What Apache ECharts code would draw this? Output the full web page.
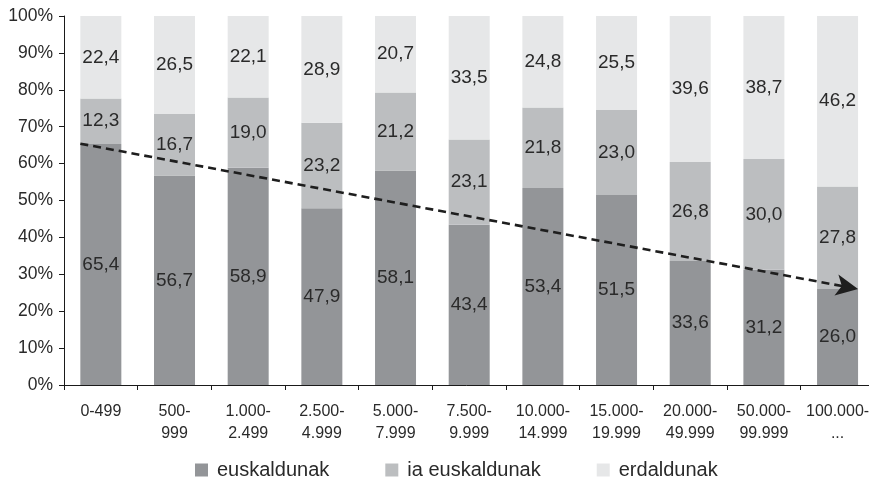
<!DOCTYPE html>
<html>
<head>
<meta charset="utf-8">
<script src="https://cdn.jsdelivr.net/npm/echarts@6/dist/echarts.min.js"></script>
<style>html,body{margin:0;padding:0;background:#fff}#c{width:869px;height:490px}</style>
</head>
<body>
<div id="c"></div>
<script>
var categories = ['0-499', '500-\n999', '1.000-\n2.499', '2.500-\n4.999', '5.000-\n7.999', '7.500-\n9.999', '10.000-\n14.999', '15.000-\n19.999', '20.000-\n49.999', '50.000-\n99.999', '100.000-\n...'];
var euskaldunak = [65.4, 56.7, 58.9, 47.9, 58.1, 43.4, 53.4, 51.5, 33.6, 31.2, 26.0];
var iaEuskaldunak = [12.3, 16.7, 19.0, 23.2, 21.2, 23.1, 21.8, 23.0, 26.8, 30.0, 27.8];
var erdaldunak = [22.4, 26.5, 22.1, 28.9, 20.7, 33.5, 24.8, 25.5, 39.6, 38.7, 46.2];
var seriesNames = ['euskaldunak', 'ia euskaldunak', 'erdaldunak'];
var yTicks = [0, 10, 20, 30, 40, 50, 60, 70, 80, 90, 100];

var colors = ['#939598', '#bcbec0', '#e6e7e8'];
var raw = [euskaldunak, iaEuskaldunak, erdaldunak];
var sums = categories.map(function (_, i) { return euskaldunak[i] + iaEuskaldunak[i] + erdaldunak[i]; });

function fmt(v) { return v.toFixed(1).replace('.', ','); }

var FONT = '"Liberation Sans", Arial, sans-serif';

var barSeries = raw.map(function (arr, s) {
  return {
    name: seriesNames[s],
    type: 'bar',
    stack: 'total',
    barWidth: 41,
    itemStyle: { color: colors[s] },
    label: {
      show: true,
      position: 'inside',
      fontFamily: FONT,
      fontSize: 19,
      color: '#2a2a2a',
      formatter: function (p) { return fmt(arr[p.dataIndex]); }
    },
    emphasis: { disabled: true },
    data: arr.map(function (v, i) { return v / sums[i] * 100; })
  };
});

var n = categories.length;
var halfBarFrac = 20.5 / 73.67;
barSeries.push({
  type: 'line',
  xAxisIndex: 1,
  yAxisIndex: 0,
  data: [],
  silent: true,
  markLine: {
    silent: true,
    symbol: ['none', 'arrow'],
    symbolSize: [16, 22],
    label: { show: false },
    lineStyle: { color: '#1e1e1e', width: 2.6, type: [8, 5] },
    data: [[
      { coord: [0.5 - halfBarFrac, euskaldunak[0]] },
      { coord: [n - 0.5 + halfBarFrac, euskaldunak[n - 1]] }
    ]],
    animation: false
  }
});

var chart = echarts.init(document.getElementById('c'), null, { renderer: 'canvas' });
chart.setOption({
  animation: false,
  backgroundColor: '#ffffff',
  grid: { left: 64, top: 16, bottom: 105, right: -5.4, outerBoundsMode: 'none', containLabel: false },
  legend: {
    data: seriesNames,
    left: 190,
    top: 455,
    itemWidth: 13,
    itemHeight: 13,
    itemGap: 56,
    icon: 'rect',
    textStyle: { fontFamily: FONT, fontSize: 20, color: '#2a2a2a', padding: [0, 0, 0, 4] }
  },
  xAxis: [{
    type: 'category',
    data: categories,
    axisLine: { lineStyle: { color: '#1a1a1a', width: 1 } },
    axisTick: { show: true, length: 5, alignWithLabel: false, lineStyle: { color: '#1a1a1a' } },
    axisLabel: { interval: 0, margin: 16, fontFamily: FONT, fontSize: 16, lineHeight: 22, color: '#2a2a2a' }
  }, {
    type: 'value',
    min: 0,
    max: n,
    show: false
  }],
  yAxis: {
    type: 'value',
    min: yTicks[0],
    max: yTicks[yTicks.length - 1],
    interval: 10,
    axisLine: { show: true, lineStyle: { color: '#1a1a1a', width: 1 } },
    axisTick: { show: true, length: 5, lineStyle: { color: '#1a1a1a' } },
    splitLine: { show: false },
    axisLabel: { margin: 11, fontFamily: FONT, fontSize: 17.5, color: '#2a2a2a', formatter: '{value}%' }
  },
  series: barSeries
});
</script>
</body>
</html>
